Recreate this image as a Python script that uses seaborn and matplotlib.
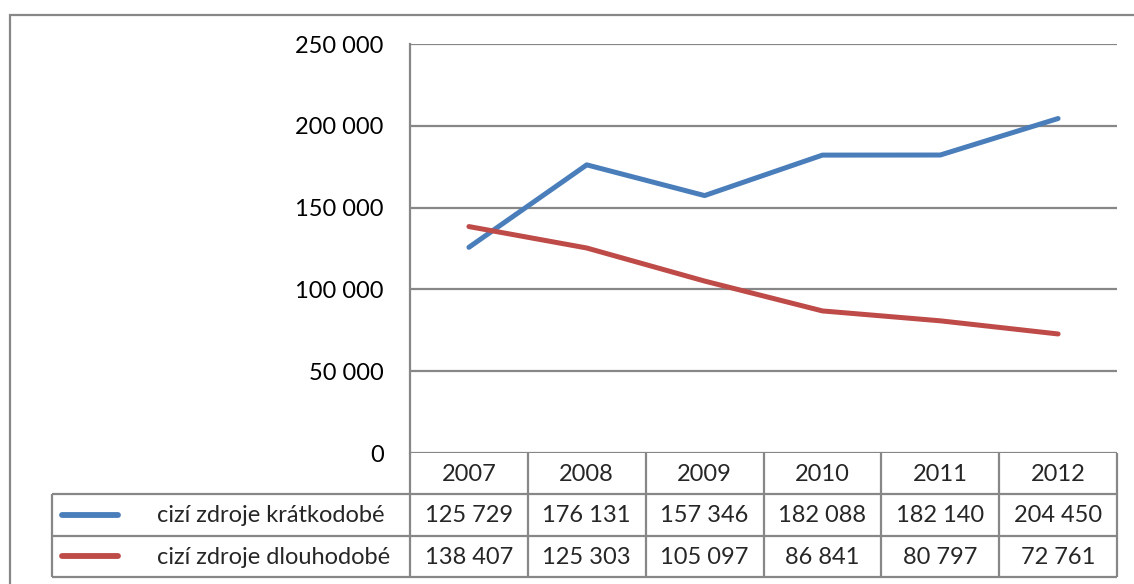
import numpy as np
import pandas as pd
import seaborn as sns
import matplotlib.pyplot as plt
from matplotlib.patches import Rectangle

# -----------------------------
# Data
# -----------------------------
years = ["2007", "2008", "2009", "2010", "2011", "2012"]
kratkodobe = [125729, 176131, 157346, 182088, 182140, 204450]
dlouhodobe = [138407, 125303, 105097, 86841, 80797, 72761]
series_names = ["cizí zdroje krátkodobé", "cizí zdroje dlouhodobé"]
colors = ["#4A7EBB", "#BE4B48"]
y_ticks = [0, 50000, 100000, 150000, 200000, 250000]


def fmt(v):
    return f"{v:,}".replace(",", " ")


df = pd.DataFrame({
    "pos": list(range(len(years))) * 2,
    "value": kratkodobe + dlouhodobe,
    "serie": [series_names[0]] * len(years) + [series_names[1]] * len(years),
})

sns.set_theme(style="white")
plt.rcParams["font.family"] = ["Lato", "DejaVu Sans"]
FS = 17
GRID = "#878787"

W, H = 1134, 584
fig = plt.figure(figsize=(W / 100, H / 100), dpi=100)

# outer chart frame (extends past right/bottom edge)
fig.patches.append(Rectangle((10 / W, -0.05), 1.2, 1 - 15 / H + 0.05,
                             transform=fig.transFigure, fill=False,
                             edgecolor=GRID, lw=1.6))

# plot area
px_left, px_right, px_top, px_bottom = 410, 1117, 44, 453
ax = fig.add_axes([px_left / W, 1 - px_bottom / H,
                   (px_right - px_left) / W, (px_bottom - px_top) / H])

sns.lineplot(data=df, x="pos", y="value", hue="serie", palette=colors,
             hue_order=series_names, lw=3.6, legend=False, ax=ax,
             solid_capstyle="round")

ax.set_xlim(-0.5, len(years) - 0.5)
ax.set_ylim(0, 250000)
ax.set_yticks(y_ticks)
ax.set_yticklabels([fmt(t) for t in y_ticks], fontsize=FS, color="black")
ax.set_xticks([])
ax.set_xlabel("")
ax.set_ylabel("")
ax.tick_params(axis="y", length=0, pad=19)
ax.grid(axis="y", color=GRID, lw=1.6)
ax.set_axisbelow(True)
for s in ["top", "right", "bottom"]:
    ax.spines[s].set_visible(False)
ax.spines["left"].set_color(GRID)
ax.spines["left"].set_linewidth(1.6)

# -----------------------------
# Data table below the plot
# -----------------------------
tb_left, tb_top, tb_bottom = 52, 453, 577
unit = (px_right - px_left) / len(years)
x0 = -0.5 - (px_left - tb_left) / unit
tax = fig.add_axes([tb_left / W, 1 - tb_bottom / H,
                    (px_right - tb_left) / W, (tb_bottom - tb_top) / H])
tax.set_xlim(x0, len(years) - 0.5)
tax.set_ylim(2.5, -0.5)
tax.axis("off")

n = len(years)
lk = dict(color=GRID, lw=1.6, clip_on=False, solid_capstyle="butt")
tax.plot([x0, n - 0.5], [0.5, 0.5], **lk)
tax.plot([x0, n - 0.5], [1.5, 1.5], **lk)
tax.plot([x0, n - 0.5], [2.5, 2.5], **lk)
tax.plot([x0, x0], [0.5, 2.5], **lk)
for i in range(n + 1):
    tax.plot([i - 0.5, i - 0.5], [-0.5, 2.5], **lk)

for i, yr in enumerate(years):
    tax.text(i, 0.02, yr, ha="center", va="center", fontsize=FS)
    tax.text(i, 1.02, fmt(kratkodobe[i]), ha="center", va="center", fontsize=FS)
    tax.text(i, 2.02, fmt(dlouhodobe[i]), ha="center", va="center", fontsize=FS)

for r, (name, c) in enumerate(zip(series_names, colors)):
    ly = r + 1
    tax.plot([x0 + 10 / unit, x0 + 66 / unit], [ly, ly], color=c, lw=4.2,
             solid_capstyle="round", clip_on=False)
    tax.text(x0 + 105 / unit, ly + 0.02, name, ha="left", va="center", fontsize=FS)

plt.savefig("out.png", dpi=100)
plt.close()
